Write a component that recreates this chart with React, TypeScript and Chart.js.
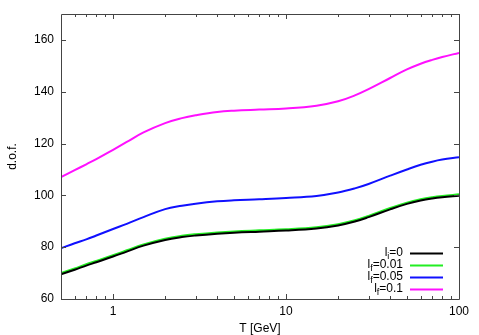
import React, { useEffect, useRef } from "react";
import { Chart, registerables } from "chart.js";

Chart.register(...registerables);

const temps = [0.5, 0.6, 0.7, 0.8, 1, 1.2, 1.5, 2, 2.5, 3, 4, 5, 7, 10, 15, 20, 25, 30, 40, 50, 60, 70, 80, 100];
const dofLi0 = [69.5, 71.3, 72.9, 74.2, 76.4, 78.3, 80.6, 82.8, 83.9, 84.5, 85.2, 85.6, 86.0, 86.4, 87.2, 88.4, 89.9, 91.6, 94.6, 96.7, 98.0, 98.8, 99.3, 99.9];
const dofLf001 = [70.0, 71.8, 73.4, 74.7, 76.9, 78.8, 81.1, 83.3, 84.4, 85.0, 85.7, 86.1, 86.5, 86.9, 87.7, 88.9, 90.4, 92.1, 95.1, 97.2, 98.5, 99.3, 99.8, 100.4];
const dofLf005 = [79.6, 81.5, 83.0, 84.5, 87.0, 89.0, 91.6, 94.7, 96.0, 96.8, 97.7, 98.1, 98.5, 99.0, 99.8, 101.1, 102.7, 104.4, 107.6, 110.0, 111.8, 113.0, 113.8, 114.7];
const dofLf01 = [107.0, 109.7, 112.0, 114.0, 117.6, 120.6, 124.3, 127.9, 129.8, 130.9, 132.2, 132.7, 133.1, 133.5, 134.6, 136.3, 138.6, 141.0, 145.3, 148.6, 150.8, 152.3, 153.4, 155.0];

const seriesLabels = ["l_i=0", "l_f=0.01", "l_f=0.05", "l_f=0.1"];
const seriesColors = ["#000000", "#22ee22", "#1010ff", "#ff10ff"];
const xTicks = [1, 10, 100];
const xMinorTicks = [0.6, 0.7, 0.8, 0.9, 2, 3, 4, 5, 6, 7, 8, 9, 20, 30, 40, 50, 60, 70, 80, 90];
const yTicks = [60, 80, 100, 120, 140, 160];
const xTitle = "T [GeV]";
const yTitle = "d.o.f.";

const FONT = "'Liberation Sans', Arial, sans-serif";

const framePlugin = {
  id: "frame",
  afterDraw(chart: any) {
    const { ctx, chartArea: a, scales } = chart;
    const xs = scales.x;
    const ys = scales.y;
    ctx.save();
    ctx.strokeStyle = "#444444";
    ctx.lineWidth = 1;
    ctx.beginPath();
    ctx.rect(Math.round(a.left) + 0.5, Math.round(a.top) + 0.5, Math.round(a.right - a.left), Math.round(a.bottom - a.top));
    ctx.stroke();
    ctx.beginPath();
    const major = 5;
    const minor = 3;
    xTicks.forEach((v) => {
      const px = Math.round(xs.getPixelForValue(v)) + 0.5;
      ctx.moveTo(px, a.bottom);
      ctx.lineTo(px, a.bottom - major);
      ctx.moveTo(px, a.top);
      ctx.lineTo(px, a.top + major);
    });
    xMinorTicks.forEach((v) => {
      const px = Math.round(xs.getPixelForValue(v)) + 0.5;
      ctx.moveTo(px, a.bottom);
      ctx.lineTo(px, a.bottom - minor);
      ctx.moveTo(px, a.top);
      ctx.lineTo(px, a.top + minor);
    });
    yTicks.forEach((v) => {
      const py = Math.round(ys.getPixelForValue(v)) + 0.5;
      ctx.moveTo(a.left, py);
      ctx.lineTo(a.left + major, py);
      ctx.moveTo(a.right, py);
      ctx.lineTo(a.right - major, py);
    });
    ctx.stroke();

    // tick labels and titles
    ctx.fillStyle = "#000";
    ctx.font = `12px ${FONT}`;
    ctx.textBaseline = "middle";
    ctx.textAlign = "right";
    yTicks.forEach((v) => {
      ctx.fillText(String(v), a.left - 7, ys.getPixelForValue(v));
    });
    ctx.textAlign = "center";
    xTicks.forEach((v) => {
      ctx.fillText(String(v), xs.getPixelForValue(v), a.bottom + 13);
    });
    ctx.fillText(xTitle, (a.left + a.right) / 2, a.bottom + 30);
    ctx.save();
    ctx.translate(13, (a.top + a.bottom) / 2);
    ctx.rotate(-Math.PI / 2);
    ctx.fillText(yTitle, 0, 0);
    ctx.restore();

    // legend
    const textRight = a.right - 56;
    const lineX0 = a.right - 49;
    const lineX1 = a.right - 16;
    const rowY0 = a.bottom - 46;
    const rowH = 12;
    ctx.textBaseline = "middle";
    chart.data.datasets.forEach((ds: any, i: number) => {
      const y = rowY0 + i * rowH;
      const m = /^(.*)_(.)(.*)$/.exec(ds.label);
      const base = m ? m[1] : ds.label;
      const sub = m ? m[2] : "";
      const rest = m ? m[3] : "";
      ctx.font = `12px ${FONT}`;
      const wRest = ctx.measureText(rest).width;
      ctx.font = `9px ${FONT}`;
      const wSub = ctx.measureText(sub).width;
      ctx.font = `12px ${FONT}`;
      const wBase = ctx.measureText(base).width;
      let x = textRight - wRest - wSub - wBase;
      ctx.fillStyle = "#000";
      ctx.textAlign = "left";
      ctx.fillText(base, x, y);
      x += wBase;
      ctx.font = `9px ${FONT}`;
      ctx.fillText(sub, x, y + 4);
      x += wSub;
      ctx.font = `12px ${FONT}`;
      ctx.fillText(rest, x, y);
      ctx.strokeStyle = ds.borderColor;
      ctx.lineWidth = 2;
      ctx.beginPath();
      ctx.moveTo(lineX0, y + 0.5);
      ctx.lineTo(lineX1, y + 0.5);
      ctx.stroke();
    });
    ctx.restore();
  },
};

export default function App() {
  const ref = useRef<HTMLCanvasElement>(null);
  useEffect(() => {
    document.body.style.margin = "0";
    const series = [dofLi0, dofLf001, dofLf005, dofLf01];
    const chart = new Chart(ref.current!, {
      type: "line",
      data: {
        datasets: series.map((vals, i) => ({
          label: seriesLabels[i],
          data: temps.map((t, j) => ({ x: t, y: vals[j] })),
          borderColor: seriesColors[i],
          backgroundColor: seriesColors[i],
          borderWidth: 2,
          pointRadius: 0,
          tension: 0.4,
          fill: false,
        })),
      },
      options: {
        animation: false,
        responsive: false,
        devicePixelRatio: 1,
        layout: { padding: { top: 14, right: 20, left: 61, bottom: 36 } },
        plugins: { legend: { display: false }, tooltip: { enabled: false } },
        scales: {
          x: { type: "logarithmic", min: 0.5, max: 100, display: false },
          y: { type: "linear", min: 60, max: 170, display: false },
        },
      },
      plugins: [framePlugin],
    });
    return () => chart.destroy();
  }, []);
  return <canvas ref={ref} width={479} height={335} style={{ display: "block" }} />;
}
